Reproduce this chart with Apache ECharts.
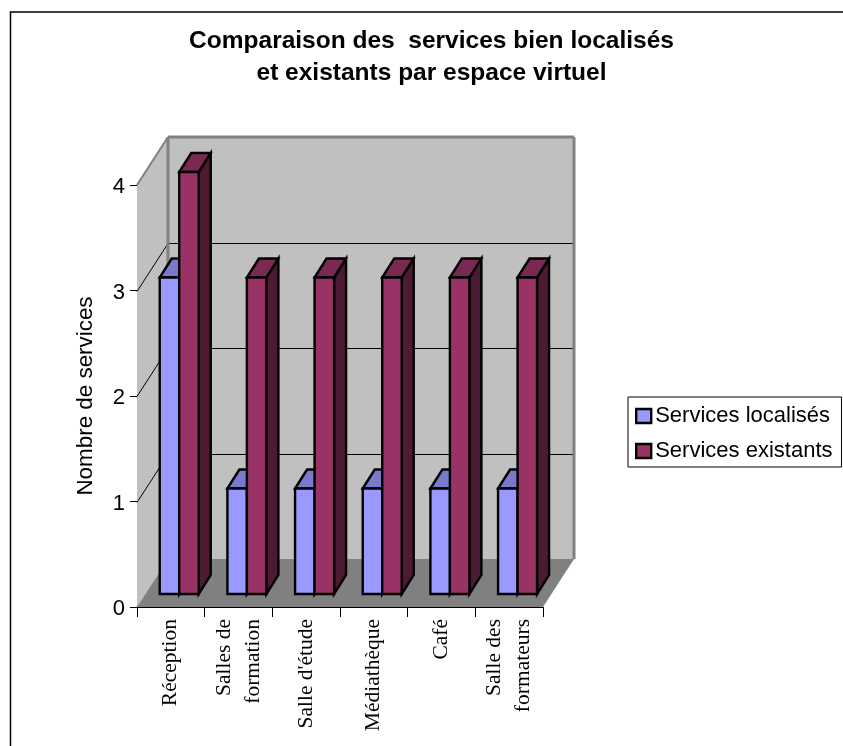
<!DOCTYPE html>
<html><head><meta charset="utf-8">
<style>html,body{margin:0;padding:0;background:#fff}#c{width:843px;height:746px}</style>
<script src="https://cdn.jsdelivr.net/npm/echarts@6/dist/echarts.min.js"></script>
</head><body><div id="c"></div>
<script>
const categories = ['Réception','Salles de\nformation',"Salle d'étude",'Médiathèque','Café','Salle des\nformateurs'];
const localises = [3,1,1,1,1,1];
const existants = [4,3,3,3,3,3];
const seriesNames = ['Services localisés','Services existants'];
const yTicks = [0,1,2,3,4];
const colorsBlue = {front:'#9999ff',top:'#7a7acc',side:'#4d4d80'};
const colorsRed = {front:'#993366',top:'#7a2952',side:'#4d1a33'};

const WALL_DX=31, WALL_DY=48;
const BAR_DX=12, BAR_DY=19, BAR_W=19.5;
const OFF_DX=8.4, OFF_DY=13;

function poly(points,fill,stroke,lw){
  return {type:'polygon',shape:{points},style:{fill,stroke:stroke||'none',lineWidth:lw||0,lineJoin:'miter'}};
}
function line(p,q,stroke,lw){
  return {type:'line',shape:{x1:p[0],y1:p[1],x2:q[0],y2:q[1]},style:{stroke,lineWidth:lw}};
}
function renderWalls(params,api){
  const g=params.coordSys, L=g.x, R=g.x+g.width;
  const y0=api.coord([0,0])[1], y4=api.coord([0,4])[1];
  const d=WALL_DX, e=WALL_DY;
  const c=[
    poly([[L,y4],[L+d,y4-e],[L+d,y0-e],[L,y0]],'#c0c0c0'),
    poly([[L+d,y4-e],[R+d,y4-e],[R+d,y0-e],[L+d,y0-e]],'#c0c0c0'),
    poly([[L,y0],[R,y0],[R+d,y0-e],[L+d,y0-e]],'#808080')
  ];
  yTicks.slice(1,-1).forEach(t=>{
    const y=Math.round(api.coord([0,t])[1])+0.5;
    c.push(line([L,y],[L+d,y-e],'#000',1));
    c.push(line([L+d,y-e],[R+d,y-e],'#000',1));
  });
  c.push(line([L,y4],[L+d,y4-e],'#808080',2));
  c.push(line([L+d,y4-e],[R+d,y4-e],'#808080',3));
  c.push(line([L+d,y4-e],[L+d,y0-e],'#808080',3));
  c.push(line([R+d,y4-e],[R+d,y0-e],'#808080',3));
  return {type:'group',children:c};
}
function barRenderer(cols,sign){
  return function(params,api){
    const cat=api.value(0), v=api.value(1);
    const p=api.coord([cat,v]), b=api.coord([cat,0]);
    const x0=p[0]+OFF_DX+(sign<0?-BAR_W:0), x1=x0+BAR_W;
    const yt=p[1]-OFF_DY, yb=b[1]-OFF_DY;
    const side=poly([[x1,yt],[x1+BAR_DX,yt-BAR_DY],[x1+BAR_DX,yb-BAR_DY],[x1,yb]],cols.side,'#000',2.4);
    const top=poly([[x0,yt],[x0+BAR_DX,yt-BAR_DY],[x1+BAR_DX,yt-BAR_DY],[x1,yt]],cols.top,'#000',2.4);
    const front=poly([[x0,yt],[x1,yt],[x1,yb],[x0,yb]],cols.front,'#000',2.4);
    return {type:'group',children:[side,top,front]};
  };
}
const chart=echarts.init(document.getElementById('c'),null,{renderer:'canvas'});
chart.setOption({
  animation:false,
  backgroundColor:'#fff',
  textStyle:{fontFamily:'Liberation Sans'},
  title:{
    text:'Comparaison des  services bien localisés\net existants par espace virtuel',
    left:426.5,top:20,textAlign:'center',
    textStyle:{fontFamily:'Liberation Sans',fontWeight:'bold',fontSize:24.5,lineHeight:32,color:'#000'}
  },
  grid:{left:137,right:300,top:185,bottom:139},
  xAxis:{
    type:'category',data:categories,
    axisLine:{lineStyle:{color:'#000',width:1}},
    axisTick:{show:true,length:10,alignWithLabel:false,lineStyle:{color:'#000'}},
    axisLabel:{interval:0,rotate:90,margin:12,fontFamily:'Liberation Serif',fontSize:21.5,lineHeight:29,color:'#000'},
    splitLine:{show:false}
  },
  yAxis:{
    type:'value',min:0,max:4,interval:1,
    name:'Nombre de services',nameLocation:'middle',nameGap:40,
    nameTextStyle:{fontFamily:'Liberation Sans',fontSize:22.4,color:'#000'},
    axisLine:{show:true,lineStyle:{color:'#000',width:1}},
    axisTick:{show:true,length:7,lineStyle:{color:'#000'}},
    axisLabel:{margin:12,color:'#000',formatter:'{v|{value}}',
      rich:{v:{fontFamily:'Liberation Sans',fontSize:22,color:'#000',padding:[4,0,0,0]}}},
    splitLine:{show:false}
  },
  legend:{
    orient:'vertical',left:628,top:397,
    padding:[8,9,5,7],itemGap:13,itemWidth:15,itemHeight:14,
    backgroundColor:'#fff',borderColor:'#000',borderWidth:1,borderRadius:0,
    textStyle:{fontFamily:'Liberation Sans',fontSize:22,color:'#000',padding:[0,0,0,-1]},
    data:[
      {name:seriesNames[0],icon:'rect',itemStyle:{color:colorsBlue.front,borderColor:'#000',borderWidth:2.4}},
      {name:seriesNames[1],icon:'rect',itemStyle:{color:colorsRed.front,borderColor:'#000',borderWidth:2.4}}
    ]
  },
  graphic:[{type:'rect',z:-1,silent:true,shape:{x:10.5,y:12,width:840,height:740},style:{fill:'none',stroke:'#000',lineWidth:1.5}}],
  series:[
    {type:'custom',name:'walls',z:1,silent:true,clip:false,renderItem:renderWalls,data:[[0,0]],encode:{x:0,y:1}},
    {type:'custom',name:seriesNames[0],z:2,clip:false,renderItem:barRenderer(colorsBlue,-1),
      itemStyle:{color:colorsBlue.front},encode:{x:0,y:1},data:localises.map((v,i)=>[i,v])},
    {type:'custom',name:seriesNames[1],z:3,clip:false,renderItem:barRenderer(colorsRed,1),
      itemStyle:{color:colorsRed.front},encode:{x:0,y:1},data:existants.map((v,i)=>[i,v])}
  ]
});
</script></body></html>
